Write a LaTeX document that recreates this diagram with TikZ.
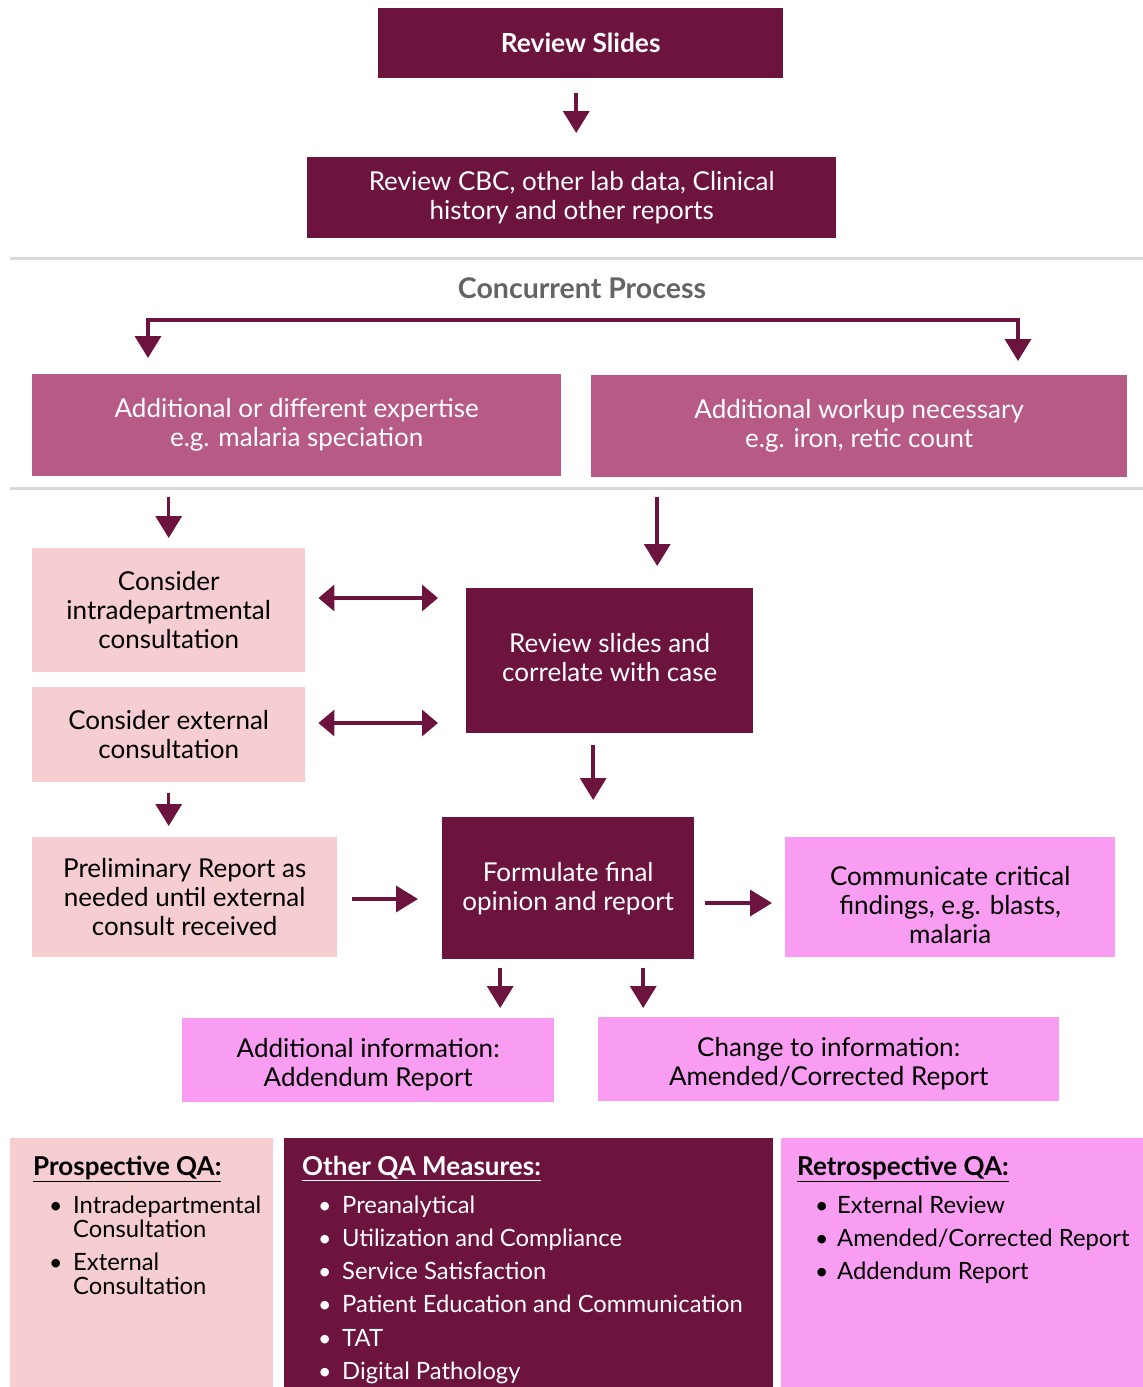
\documentclass[tikz,border=0pt]{standalone}
\usepackage{fontspec}
\setmainfont{Lato}
\usetikzlibrary{arrows.meta,calc}
\definecolor{dk}{HTML}{6D143E}
\definecolor{mauve}{HTML}{B85A86}
\definecolor{lpink}{HTML}{F6CDD0}
\definecolor{bpink}{HTML}{F99DF3}
\definecolor{sep}{HTML}{D9D9D9}
\definecolor{greytxt}{HTML}{646464}
\begin{document}
\begin{tikzpicture}[x=1pt,y=-1pt,
  box/.style={rectangle, inner sep=0pt, align=center, anchor=north west, font=\fontsize{26}{29}\selectfont},
  dbox/.style={box, fill=dk, text=white},
  mbox/.style={box, fill=mauve, text=white},
  lbox/.style={box, fill=lpink, text=black},
  pbox/.style={box, fill=bpink, text=black},
  btext/.style={inner sep=0pt, align=center, font=\fontsize{26}{29}\selectfont, text=black},
  arr/.style={draw=dk, line width=3.5pt, -{Triangle[width=26pt,length=22pt]}},
  darr/.style={draw=dk, line width=3.5pt, {Triangle[width=26pt,length=16pt]}-{Triangle[width=26pt,length=16pt]}},
  seprule/.style={draw=sep, line width=3pt},
  ttl/.style={anchor=base west, inner sep=0pt, font=\fontsize{26}{30}\selectfont\bfseries},
  itm/.style={anchor=base west, inner sep=0pt, font=\fontsize{23.8}{24}\selectfont},
  bul/.style={anchor=base west, inner sep=0pt, font=\fontsize{23}{24}\selectfont}
]
\useasboundingbox (0,0) rectangle (1143,1387);

% top
\node[dbox, minimum width=405pt, minimum height=70pt, font=\fontsize{26.3}{29}\selectfont\bfseries] (rs) at (378,8) {Review Slides};
\node[dbox, minimum width=529pt, minimum height=81pt] (cbc) at (307,157) {Review CBC, other lab data, Clinical\\history and other reports};
\draw[arr, shorten <=15pt, shorten >=24pt] ([xshift=-4.5pt]rs.south) -- ([xshift=4.5pt]cbc.north);

\draw[seprule] (10,258) -- (1143,258);
\node[font=\fontsize{28.5}{32}\selectfont\bfseries, text=greytxt, inner sep=0pt] (cp) at (582,288) {Concurrent Process};

\node[mbox, minimum width=529pt, minimum height=102pt] (mauveL) at (32,374) {Additional or different expertise\\e.g. malaria speciation};
\node[mbox, minimum width=536pt, minimum height=102pt] (mauveR) at (591,375) {Additional workup necessary\\e.g. iron, retic count};
\coordinate (bR) at (1018,320);
\draw[draw=dk, line width=3.5pt, {Triangle[width=26pt,length=22pt]}-{Triangle[width=26pt,length=22pt]}]
  ($(mauveL.north west)+(116,-16)$) |- (bR) -- ($(mauveR.north west)+(427,-14)$);

\draw[seprule] (10,488) -- (1143,488);

% middle
\node[lbox, minimum width=273pt, minimum height=124pt] (lp1) at (32,548) {Consider\\intradepartmental\\consultation};
\node[lbox, minimum width=273pt, minimum height=95pt] (lp2) at (32,687) {Consider external\\consultation};
\node[dbox, minimum width=287pt, minimum height=145pt] (rsc) at (466,588) {};
\node[btext, text=white] (rscT) at ([yshift=3pt]rsc.center) {Review slides and\\correlate with case};
\node[lbox, minimum width=305pt, minimum height=120pt] (lp3) at (32,837) {Preliminary Report as\\needed until external\\consult received};
\node[dbox, minimum width=252pt, minimum height=142pt] (fin) at (442,817) {Formulate final\\opinion and report};
\node[pbox, minimum width=330pt, minimum height=120pt] (crit) at (785,837) {};
\node[btext] (critT) at ([yshift=-8pt]crit.center) {Communicate critical\\findings, e.g. blasts,\\malaria};
\node[pbox, minimum width=372pt, minimum height=84pt] (add) at (182,1018) {};
\node[btext] (addT) at ([yshift=-4pt]add.center) {Additional information:\\Addendum Report};
\node[pbox, minimum width=461pt, minimum height=84pt] (amd) at (598,1017) {};
\node[btext] (amdT) at ([yshift=-4pt]amd.center) {Change to information:\\Amended/Corrected Report};

\draw[arr, shorten <=21pt, shorten >=10pt] (lp1.north |- mauveL.south) -- (lp1.north);
\draw[arr, shorten <=20pt, shorten >=22pt] ([xshift=47.5pt]rsc.north |- mauveR.south) -- ([xshift=47.5pt]rsc.north);
\draw[darr, shorten <=13pt, shorten >=28pt] ($(lp1.north east)+(0,50)$) -- ($(rsc.north west)+(0,10)$);
\draw[darr, shorten <=13pt, shorten >=28pt] ($(lp2.north east)+(0,36)$) -- ($(rsc.north west)+(0,135)$);
\draw[arr, shorten <=12pt, shorten >=17pt] ([xshift=-16.5pt]rsc.south) -- ([xshift=25pt]fin.north);
\draw[arr, shorten <=11pt, shorten >=11pt] (lp2.south) -- (lp2.south |- lp3.north);
\draw[arr, shorten <=15pt, shorten >=24pt] ($(lp3.north east)+(0,62)$) -- ($(fin.north west)+(0,82)$);
\draw[arr, shorten <=11pt, shorten >=13pt] ($(fin.north east)+(0,86)$) -- ($(crit.north west)+(0,66)$);
\draw[arr, shorten <=9pt, shorten >=10pt] ([xshift=-68pt]fin.south) -- ([xshift=-68pt]fin.south |- add.north);
\draw[arr, shorten <=9pt, shorten >=9pt] ([xshift=75pt]fin.south) -- ([xshift=75pt]fin.south |- amd.north);

% bottom panels
\node[lbox, minimum width=263pt, minimum height=249pt] (p1) at (10,1138) {};
\node[dbox, minimum width=489pt, minimum height=249pt] (p2) at (284,1138) {};
\node[pbox, minimum width=362pt, minimum height=249pt] (p3) at (781,1138) {};

\node[ttl, text=black] (t1) at (33,1175) {\underline{Prospective QA:}};
\node[bul] (b11) at (49,1213) {•};
\node[itm] (i11) at (73,1213) {Intradepartmental};
\node[itm] (i12) at (73,1237) {Consultation};
\node[bul] (b12) at (49,1270) {•};
\node[itm] (i13) at (73,1270) {External};
\node[itm] (i14) at (73,1294) {Consultation};

\node[ttl, text=white] (t2) at (302,1175) {\underline{Other QA Measures:}};
\foreach \yy/\tx [count=\k] in {1213/Preanalytical,1246/Utilization and Compliance,1279/Service Satisfaction,1312/Patient Education and Communication,1346/TAT,1379/Digital Pathology}{
  \node[bul, text=white] (b2\k) at (318,\yy) {•};
  \node[itm, text=white] (i2\k) at (342,\yy) {\tx};
}

\node[ttl, text=black] (t3) at (797,1175) {\underline{Retrospective QA:}};
\foreach \yy/\tx [count=\k] in {1213/{External Review},1246/{Amended/Corrected Report},1279/{Addendum Report}}{
  \node[bul] (b3\k) at (815,\yy) {•};
  \node[itm] (i3\k) at (837,\yy) {\tx};
}
\end{tikzpicture}
\end{document}
